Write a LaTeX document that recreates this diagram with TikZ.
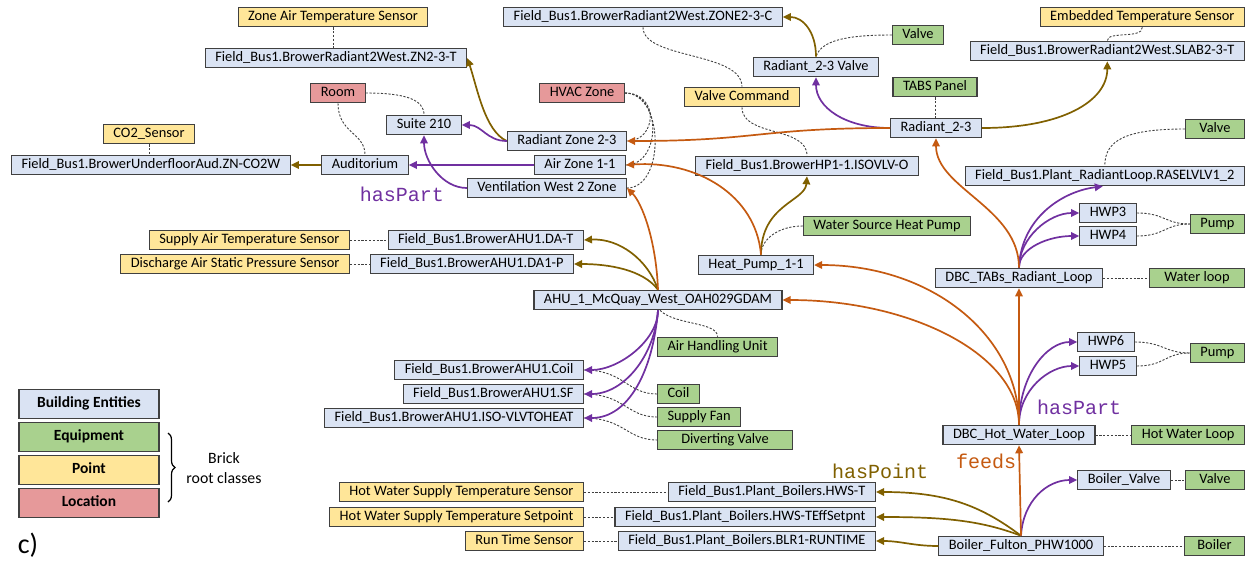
\documentclass[tikz,border=0pt]{standalone}
\usepackage{fontspec}
\setmainfont{Carlito}
\newfontfamily\monof{Liberation Mono}
\usetikzlibrary{arrows.meta,decorations.pathreplacing}
\definecolor{cblue}{HTML}{DAE3F3}
\definecolor{cgreen}{HTML}{A9D18E}
\definecolor{cyellow}{HTML}{FFE699}
\definecolor{cred}{HTML}{E6999A}
\definecolor{cborder}{HTML}{404040}
\definecolor{cpurple}{HTML}{7030A0}
\definecolor{corange}{HTML}{C55A11}
\definecolor{colive}{HTML}{806000}
\begin{document}
\begin{tikzpicture}[x=1pt,y=-1pt,
  box/.style={draw=cborder, line width=1.1pt, inner xsep=10pt, inner ysep=0pt, minimum height=19.5pt, text height=10.5pt, text depth=3pt, font=\fontsize{14.4}{17}\selectfont},
  ent/.style={box, fill=cblue},
  eqp/.style={box, fill=cgreen},
  pnt/.style={box, fill=cyellow},
  loc/.style={box, fill=cred},
  leg/.style={box, minimum width=140pt, minimum height=29.5pt, font=\fontsize{15.5}{18}\selectfont\bfseries},
  rel/.style={line width=1.7pt, -{Triangle[length=8pt,width=7.5pt]}},
  ol/.style={rel, colive},
  pu/.style={rel, cpurple},
  orr/.style={rel, corange},
  ds/.style={draw=cborder, line width=0.9pt, dash pattern=on 2.2pt off 1.6pt},
  lab/.style={font=\monof\fontsize{20}{22}\selectfont, inner sep=0pt}
]
\useasboundingbox (0,0) rectangle (1248,560);

% ---------- nodes ----------
\node[pnt] (zats) at (333,17) {Zone Air Temperature Sensor};
\node[ent] (zn) at (336,58) {Field\_Bus1.BrowerRadiant2West.ZN2-3-T};
\node[ent] (zonec) at (643,17) {Field\_Bus1.BrowerRadiant2West.ZONE2-3-C};
\node[eqp] (valveA) at (918,35) {Valve};
\node[ent] (rvalve) at (816,67) {Radiant\_2-3 Valve};
\node[pnt, anchor=east] (ets) at (1245,17) {Embedded Temperature Sensor};
\node[ent, anchor=east] (slab) at (1245,51) {Field\_Bus1.BrowerRadiant2West.SLAB2-3-T};
\node[eqp] (tabs) at (935,87) {TABS Panel};
\node[ent] (rad) at (936,128) {Radiant\_2-3};
\node[pnt] (vcmd) at (742,97) {Valve Command};
\node[loc] (hvac) at (582,93) {HVAC Zone};
\node[loc] (room) at (338,93) {Room};
\node[ent] (suite) at (424,125) {Suite 210};
\node[ent, anchor=east] (rz) at (627,141) {Radiant Zone 2-3};
\node[ent, anchor=east] (az) at (626,165) {Air Zone 1-1};
\node[ent, anchor=east] (vz) at (627,188) {Ventilation West 2 Zone};
\node[ent] (aud) at (365,165) {Auditorium};
\node[pnt] (co2s) at (149,134) {CO2\_Sensor};
\node[ent, anchor=west] (co2w) at (11,165) {Field\_Bus1.BrowerUnderfloorAud.ZN-CO2W};
\node[lab, text=cpurple] (lhp1) at (402,194) {hasPart};
\node[ent] (hp1v) at (807,166) {Field\_Bus1.BrowerHP1-1.ISOVLV-O};
\node[eqp, anchor=east, minimum width=59pt] (valveB) at (1245,129) {Valve};
\node[ent, anchor=east] (rasel) at (1245,176) {Field\_Bus1.Plant\_RadiantLoop.RASELVLV1\_2};
\node[ent] (hwp3) at (1108,213) {HWP3};
\node[ent] (hwp4) at (1108,236) {HWP4};
\node[eqp, anchor=east] (pumpA) at (1245,224) {Pump};
\node[eqp] (wshp) at (887,226) {Water Source Heat Pump};
\node[ent] (hp) at (756,265) {Heat\_Pump\_1-1};
\node[ent] (tloop) at (1019,278) {DBC\_TABs\_Radiant\_Loop};
\node[eqp, anchor=east, minimum width=95pt] (wloop) at (1245,278) {Water loop};
\node[pnt, anchor=east] (sats) at (350,240) {Supply Air Temperature Sensor};
\node[ent, anchor=east] (dat) at (584,240) {Field\_Bus1.BrowerAHU1.DA-T};
\node[pnt, anchor=east] (dasp) at (350,264) {Discharge Air Static Pressure Sensor};
\node[ent, anchor=east] (dap) at (574,264) {Field\_Bus1.BrowerAHU1.DA1-P};
\node[ent] (ahu) at (658,300) {AHU\_1\_McQuay\_West\_OAH029GDAM};
\node[eqp, anchor=west] (ahut) at (657,347) {Air Handling Unit};
\node[ent] (hwp6) at (1106,342) {HWP6};
\node[ent] (hwp5) at (1108,366) {HWP5};
\node[eqp, anchor=east] (pumpB) at (1245,353) {Pump};
\node[ent, anchor=east] (coilf) at (584,370) {Field\_Bus1.BrowerAHU1.Coil};
\node[ent, anchor=east] (sff) at (584,394) {Field\_Bus1.BrowerAHU1.SF};
\node[ent, anchor=east] (isof) at (584,418) {Field\_Bus1.BrowerAHU1.ISO-VLVTOHEAT};
\node[eqp, anchor=west] (coil) at (657,394) {Coil};
\node[eqp, anchor=west] (sfan) at (657,417) {Supply Fan};
\node[eqp, anchor=west, minimum width=135pt] (dvalve) at (657,440) {Diverting Valve};
\node[ent] (hwl) at (1019,435) {DBC\_Hot\_Water\_Loop};
\node[eqp, anchor=east] (hwloop) at (1245,435) {Hot Water Loop};
\node[lab, text=cpurple] (lhp2) at (1079,407) {hasPart};
\node[lab, text=corange] (lfeeds) at (986,461) {feeds};
\node[lab, text=colive] (lhpt) at (880,471) {hasPoint};
\node[ent] (bvalve) at (1124,480) {Boiler\_Valve};
\node[eqp, anchor=east, minimum width=59pt] (valveC) at (1245,480) {Valve};
\node[pnt, anchor=east] (hwsts) at (584,492) {Hot Water Supply Temperature Sensor};
\node[ent, anchor=east] (hwst) at (876,492) {Field\_Bus1.Plant\_Boilers.HWS-T};
\node[pnt, anchor=east] (hwssp) at (584,517) {Hot Water Supply Temperature Setpoint};
\node[ent, anchor=east] (hwsf) at (876,517) {Field\_Bus1.Plant\_Boilers.HWS-TEffSetpnt};
\node[pnt, anchor=east] (rts) at (584,541) {Run Time Sensor};
\node[ent, anchor=east] (rtf) at (876,541) {Field\_Bus1.Plant\_Boilers.BLR1-RUNTIME};
\node[ent] (boiler) at (1021,546) {Boiler\_Fulton\_PHW1000};
\node[eqp, anchor=east, minimum width=60pt] (boilert) at (1245,546) {Boiler};

% legend
\node[leg, fill=cblue] (lg1) at (89,404) {Building Entities};
\node[leg, fill=cgreen] (lg2) at (89,437) {Equipment};
\node[leg, fill=cyellow] (lg3) at (89,470) {Point};
\node[leg, fill=cred] (lg4) at (89,503) {Location};
\draw[line width=1.2pt, decorate, decoration={brace, amplitude=7pt}] (168,433) -- (168,502);
\node[align=center, font=\fontsize{15.8}{20}\selectfont] (brick) at (224,468) {Brick\\root classes};
\node[font=\fontsize{28}{30}\selectfont, inner sep=0pt] (cl) at (28,545) {c)};

% ---------- dashed type links ----------
\draw[ds] (zats.south) -- (zats.south |- zn.north);
\draw[ds] (co2s.south) -- (co2s.south |- co2w.north);
\draw[ds] (tabs.south) -- (tabs.south |- rad.north);
\draw[ds] (room.east) .. controls +(40,0) and +(0,-15) .. (suite.north);
\draw[ds] (room.south) .. controls +(0,30) and +(0,-22) .. (aud.north);
\draw[ds] (hvac.east) .. controls +(35,0) and +(30,0) .. (rz.east);
\draw[ds] (hvac.east) .. controls +(38,0) and +(35,0) .. (az.east);
\draw[ds] (hvac.east) .. controls +(40,0) and +(38,0) .. (vz.east);
\draw[ds] (zonec.south) .. controls +(0,32) and +(0,-35) .. (vcmd.north);
\draw[ds] (vcmd.south) .. controls +(0,30) and +(0,-30) .. (hp1v.north);
\draw[ds] (valveA.west) .. controls +(-50,0) and +(5,-15) .. (rvalve.north);
\draw[ds] (ets.south) .. controls +(0,12) and +(0,-10) .. (slab.north);
\draw[ds] (valveB.west) .. controls +(-60,0) and +(0,-25) .. (rasel.north);
\draw[ds] (hwp3.east) .. controls +(28,0) and +(-25,0) .. (pumpA.west);
\draw[ds] (hwp4.east) .. controls +(28,0) and +(-25,0) .. (pumpA.west);
\draw[ds] (wshp.west) .. controls +(-25,0) and +(0,-15) .. ([xshift=5pt]hp.north);
\draw[ds] (tloop.east) -- (wloop.west);
\draw[ds] (sats.east) -- (dat.west);
\draw[ds] (dasp.east) -- (dap.west);
\draw[ds] ([xshift=2pt]ahu.south) .. controls +(15,15) and +(0,-15) .. (ahut.north);
\draw[ds] (coilf.east) .. controls +(40,0) and +(-30,0) .. (coil.west);
\draw[ds] (sff.east) .. controls +(40,0) and +(-30,0) .. (sfan.west);
\draw[ds] (isof.east) .. controls +(40,0) and +(-30,0) .. (dvalve.west);
\draw[ds] (hwp6.east) .. controls +(28,0) and +(-25,0) .. (pumpB.west);
\draw[ds] (hwp5.east) .. controls +(28,0) and +(-25,0) .. (pumpB.west);
\draw[ds] (hwl.east) -- (hwloop.west);
\draw[ds] (bvalve.east) -- (valveC.west);
\draw[ds] (hwsts.east) -- (hwst.west);
\draw[ds] (hwssp.east) -- (hwsf.west);
\draw[ds] (rts.east) -- (rtf.west);
\draw[ds] (boiler.east) -- (boilert.west);

% ---------- hasPoint (olive) ----------
\draw[ol] (rz.west) .. controls +(-22,-10) and +(10,30) .. (zn.east);
\draw[ol] (aud.west) -- (co2w.east);
\draw[ol] (rvalve.north) .. controls +(0,-25) and +(20,0) .. (zonec.east);
\draw[ol] (rad.east) .. controls +(80,0) and +(0,40) .. (slab.south);
\draw[ol] ([xshift=5pt]hp.north) .. controls +(0,-50) and +(-2,25) .. (hp1v.south);
\draw[ol] (ahu.north) .. controls +(-10,-30) and +(35,-2) .. (dat.east);
\draw[ol] (ahu.north) .. controls +(-15,-20) and +(35,0) .. (dap.east);
\draw[ol] (boiler.north) .. controls +(-40,-30) and +(70,0) .. (hwst.east);
\draw[ol] (boiler.north) .. controls +(-40,-15) and +(70,0) .. (hwsf.east);
\draw[ol] (boiler.west) .. controls +(-25,0) and +(25,0) .. (rtf.east);

% ---------- hasPart (purple) ----------
\draw[pu] (rz.west) .. controls +(-20,0) and +(20,0) .. (suite.east);
\draw[pu] (az.west) -- (aud.east);
\draw[pu] (vz.west) .. controls +(-25,0) and +(0,25) .. (suite.south);
\draw[pu] (rad.west) .. controls +(-45,0) and +(0,30) .. (rvalve.south);
\draw[pu] (tloop.north) .. controls +(2,-50) and +(-40,5) .. ([xshift=-2pt]rasel.south);
\draw[pu] (tloop.north) .. controls +(0,-30) and +(-30,0) .. (hwp3.west);
\draw[pu] (tloop.north) .. controls +(0,-20) and +(-30,0) .. (hwp4.west);
\draw[pu] (ahu.south) .. controls +(0,30) and +(35,0) .. (coilf.east);
\draw[pu] (ahu.south) .. controls +(-3,45) and +(40,0) .. (sff.east);
\draw[pu] (ahu.south) .. controls +(-5,60) and +(45,0) .. (isof.east);
\draw[pu] (hwl.north) .. controls +(0,-50) and +(-30,0) .. (hwp6.west);
\draw[pu] (hwl.north) .. controls +(0,-35) and +(-30,0) .. (hwp5.west);
\draw[pu] (boiler.north) .. controls +(2,-35) and +(-30,0) .. (bvalve.west);

% ---------- feeds (orange) ----------
\draw[orr] (rad.west) .. controls +(-130,0) and +(130,0) .. (rz.east);
\draw[orr] ([xshift=5pt]hp.north) .. controls +(-5,-60) and +(70,-5) .. (az.east);
\draw[orr] (ahu.north) .. controls +(-2,-50) and +(15,15) .. (vz.east);
\draw[orr] (tloop.north) .. controls +(0,-60) and +(0,50) .. (rad.south);
\draw[orr] (hwl.north) -- (tloop.south);
\draw[orr] (hwl.north) .. controls +(0,-89) and +(118,0) .. (hp.east);
\draw[orr] (hwl.north) .. controls +(0,-70) and +(129,0) .. (ahu.east);
\draw[orr] (boiler.north) -- (hwl.south);
\end{tikzpicture}
\end{document}
